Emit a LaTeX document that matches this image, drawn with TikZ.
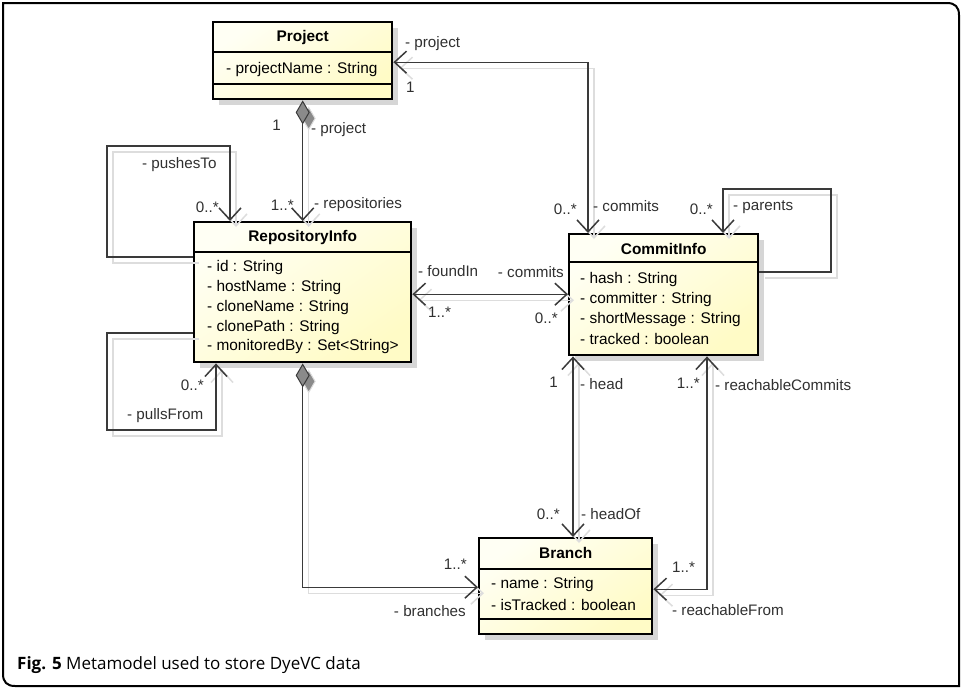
\documentclass[tikz,border=0pt]{standalone}
\usepackage{fontspec}
\setmainfont{Liberation Sans}
\newfontfamily\capfont{Open Sans}
\usetikzlibrary{arrows.meta,shadows}

\definecolor{edge}{HTML}{3A3A3A}
\definecolor{edgeshadow}{HTML}{DDDDDD}
\definecolor{boxtop}{HTML}{FFFFF4}
\definecolor{boxbot}{HTML}{FFFBC6}
\definecolor{boxshadow}{HTML}{D6D6D6}
\definecolor{labeltext}{HTML}{303030}
\definecolor{diamondfill}{HTML}{8A8A8A}

\tikzset{
  classbox/.style={draw=black, line width=2.4pt, anchor=north west, inner sep=0pt,
    top color=boxtop, bottom color=boxbot, shading angle=35,
    drop shadow={shadow xshift=6pt, shadow yshift=-6pt, fill=boxshadow, opacity=1}},
  sepline/.style={draw=black, line width=1.2pt},
  hdr/.style={font=\fontsize{15.4}{18}\selectfont\bfseries, inner sep=0pt},
  attr/.style={font=\fontsize{15.4}{18}\selectfont, anchor=west, inner sep=0pt},
  lbl/.style={font=\fontsize{15.2}{18}\selectfont, text=labeltext, inner sep=0pt},
  assoc/.style={draw=edge, line width=1.4pt,
    preaction={draw=edgeshadow, line width=1.4pt, transform canvas={shift={(6pt,-6pt)}}}},
  openhead/.tip={Straight Barb[length=12pt, width=22pt, line width=1.5pt]},
  compo/.tip={Diamond[length=24pt, width=14pt, fill=diamondfill, line width=1pt]},
  frameline/.style={draw=black, line width=2pt},
}

\begin{document}
\begin{tikzpicture}[x=1pt, y=-1pt]
\useasboundingbox (0,0) rectangle (962,689);

% outer figure frame
\draw[frameline] (3,3) -- (947,3) .. controls (955,3) and (959,7) .. (959,15)
  -- (959,686) -- (15,686) .. controls (7,686) and (3,682) .. (3,674) -- cycle;

% ---------- classes ----------
% Project
\node[classbox, minimum width=179pt, minimum height=77pt] (proj) at (212,21) {};
\draw[sepline] ([yshift=-31pt]proj.north west) -- ([yshift=-31pt]proj.north east);
\draw[sepline] ([yshift=-63pt]proj.north west) -- ([yshift=-63pt]proj.north east);
\node[hdr] (projH) at ([yshift=-17pt]proj.north) {Project};
\node[attr] (projA1) at (226,70) {- projectName : String};

% RepositoryInfo
\node[classbox, minimum width=217pt, minimum height=140pt] (repo) at (193,221) {};
\draw[sepline] ([yshift=-31pt]repo.north west) -- ([yshift=-31pt]repo.north east);
\node[hdr] (repoH) at ([yshift=-17pt]repo.north) {RepositoryInfo};
\node[attr] (repoA1) at (207,268) {- id : String};
\node[attr] (repoA2) at (207,288) {- hostName : String};
\node[attr] (repoA3) at (207,308) {- cloneName : String};
\node[attr] (repoA4) at (207,328) {- clonePath : String};
\node[attr] (repoA5) at (207,347) {- monitoredBy : Set<String>};

% CommitInfo
\node[classbox, minimum width=189pt, minimum height=121pt] (commit) at (568,233) {};
\draw[sepline] ([yshift=-29pt]commit.north west) -- ([yshift=-29pt]commit.north east);
\node[hdr] (commitH) at ([yshift=-16pt]commit.north) {CommitInfo};
\node[attr] (commitA1) at (580,280) {- hash : String};
\node[attr] (commitA2) at (580,300) {- committer : String};
\node[attr] (commitA3) at (580,320) {- shortMessage : String};
\node[attr] (commitA4) at (580,339) {- tracked : boolean};

% Branch
\node[classbox, minimum width=173pt, minimum height=96pt] (branch) at (478,537) {};
\draw[sepline] ([yshift=-32pt]branch.north west) -- ([yshift=-32pt]branch.north east);
\draw[sepline] ([yshift=-82pt]branch.north west) -- ([yshift=-82pt]branch.north east);
\node[hdr] (branchH) at ([yshift=-16pt]branch.north) {Branch};
\node[attr] (branchA1) at (491,585) {- name : String};
\node[attr] (branchA2) at (491,605) {- isTracked : boolean};

% ---------- connectors ----------
\coordinate (pushBend) at (107,146);
\coordinate (pullBend) at (107,430);
\coordinate (parentBend) at (831,189);

% Project <>-- RepositoryInfo
\draw[assoc, compo-openhead] (proj.south) -- (repo.north);
% Project <-> CommitInfo
\draw[assoc, openhead-openhead] ([yshift=-1.5pt]proj.east) -| ([xshift=20pt]commit.north west);
% RepositoryInfo pushesTo (self)
\draw[assoc, openhead-] ([xshift=37pt]repo.north west) |- (pushBend) |- ([yshift=-36pt]repo.north west);
% RepositoryInfo pullsFrom (self)
\draw[assoc, openhead-] ([xshift=23pt]repo.south west) |- (pullBend) |- ([yshift=-112pt]repo.north west);
% RepositoryInfo <-> CommitInfo
\draw[assoc, openhead-openhead] ([yshift=-2pt]repo.east) -- ([yshift=-2pt]repo.east -| commit.west);
% CommitInfo parents (self)
\draw[assoc, openhead-] ([xshift=155pt]commit.north west) |- (parentBend) |- ([yshift=-39pt]commit.north east);
% CommitInfo <-> Branch (head)
\draw[assoc, openhead-openhead] ([xshift=5pt]commit.south west) -- ([xshift=5pt]commit.south west |- branch.north);
% CommitInfo <-> Branch (reachable)
\draw[assoc, openhead-openhead] ([xshift=139pt]commit.south west) |- ([yshift=-3pt]branch.east);
% RepositoryInfo <>-- Branch
\draw[assoc, compo-openhead] (repo.south) |- ([yshift=-1pt]branch.west);

% ---------- role names and multiplicities ----------
\node[lbl, anchor=west] (l1) at (405,44) {- project};
\node[lbl, anchor=west] (l2) at (406,87) {1};
\node[lbl, anchor=east] (l3) at (577,209) {0..*};
\node[lbl, anchor=west] (l4) at (593,206) {- commits};

\node[lbl, anchor=east] (l5) at (281,125) {1};
\node[lbl, anchor=west] (l6) at (311,130) {- project};
\node[lbl, anchor=east] (l7) at (294,205) {1..*};
\node[lbl, anchor=west] (l8) at (314,205) {- repositories};

\node[lbl, anchor=west] (l9) at (142,165) {- pushesTo};
\node[lbl, anchor=east] (l10) at (219,207) {0..*};
\node[lbl, anchor=east] (l11) at (204,385) {0..*};
\node[lbl, anchor=west] (l12) at (127,416) {- pullsFrom};

\node[lbl, anchor=west] (l13) at (418,271) {- foundIn};
\node[lbl, anchor=east] (l14) at (564,272) {- commits};
\node[lbl, anchor=west] (l15) at (428,312) {1..*};
\node[lbl, anchor=east] (l16) at (558,318) {0..*};

\node[lbl, anchor=east] (l17) at (713,209) {0..*};
\node[lbl, anchor=west] (l18) at (733,207) {- parents};

\node[lbl, anchor=east] (l19) at (558,382) {1};
\node[lbl, anchor=west] (l20) at (580,384) {- head};
\node[lbl, anchor=east] (l21) at (560,514) {0..*};
\node[lbl, anchor=west] (l22) at (581,514) {- headOf};

\node[lbl, anchor=east] (l23) at (700,383) {1..*};
\node[lbl, anchor=west] (l24) at (715,385) {- reachableCommits};
\node[lbl, anchor=west] (l25) at (672,567) {1..*};
\node[lbl, anchor=west] (l26) at (672,610) {- reachableFrom};

\node[lbl, anchor=east] (l27) at (467,564) {1..*};
\node[lbl, anchor=east] (l28) at (466,611) {- branches};

% ---------- caption ----------
\node[anchor=west, inner sep=0pt, font=\capfont\fontsize{17}{20}\selectfont] (caption) at (17,665)
  {\textbf{Fig. 5} Metamodel used to store DyeVC data};
\end{tikzpicture}
\end{document}
